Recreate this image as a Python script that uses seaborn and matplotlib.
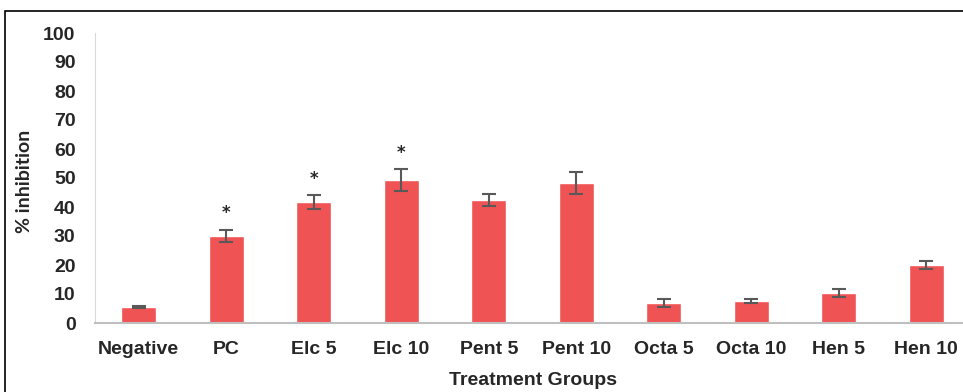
import matplotlib
matplotlib.use("Agg")
import matplotlib.pyplot as plt
import pandas as pd
import seaborn as sns
from matplotlib.patches import Rectangle

groups = ["Negative", "PC", "Elc 5", "Elc 10", "Pent 5", "Pent 10",
          "Octa 5", "Octa 10", "Hen 5", "Hen 10"]
inhibition = [5.6, 30.0, 41.7, 49.3, 42.4, 48.3, 6.9, 7.6, 10.3, 20.0]
errors = [0.3, 2.2, 2.3, 3.7, 2.2, 3.7, 1.3, 0.6, 1.5, 1.5]
significant = ["PC", "Elc 5", "Elc 10"]
y_ticks = list(range(0, 101, 10))

BAR_COLOR = "#F05354"
ERR_COLOR = "#595959"

sns.set_style("white")
plt.rcParams["font.family"] = ["Liberation Sans", "DejaVu Sans"]

df = pd.DataFrame({"group": groups, "inhibition": inhibition, "err": errors})

W, H = 963, 392
fig = plt.figure(figsize=(W / 100, H / 100), dpi=100)
ax = fig.add_axes([95 / W, 69 / H, 875 / W, 290 / H])

sns.barplot(data=df, x="group", y="inhibition", color=BAR_COLOR,
            width=0.4, saturation=1, errorbar=None, ax=ax)
ax.errorbar(range(len(groups)), df["inhibition"], yerr=df["err"], fmt="none",
            ecolor=ERR_COLOR, elinewidth=1.5, capsize=5, capthick=1.5)

for i, g in enumerate(groups):
    if g in significant:
        ax.text(i, inhibition[i] + errors[i] + 2.5, "*", ha="center", va="bottom",
                fontsize=12, fontweight="bold", family=["DejaVu Sans"])

ax.set_ylim(0, 100)
ax.set_xlim(-0.5, len(groups) - 0.5)
ax.set_yticks(y_ticks)
ax.set_yticklabels([str(t) for t in y_ticks], fontsize=14, fontweight="bold")
ax.set_xticks(range(len(groups)))
ax.set_xticklabels(groups, fontsize=14, fontweight="bold")
ax.tick_params(axis="y", length=0, pad=14)
ax.tick_params(axis="x", length=0, pad=13)
ax.set_xlabel("Treatment Groups", fontsize=14, fontweight="bold", labelpad=10)
ax.set_ylabel("% inhibition", fontsize=14, fontweight="bold",
              family=["Lato", "DejaVu Sans"])
ax.yaxis.set_label_coords(-0.071, 0.49)

for side in ["top", "right"]:
    ax.spines[side].set_visible(False)
ax.spines["left"].set_color("#D9D9D9")
ax.spines["bottom"].set_color("#BFBFBF")
ax.spines["bottom"].set_linewidth(1.5)

fig.patches.append(Rectangle((5 / W, -0.05), 1.1, 1.05 - 11 / H,
                             transform=fig.transFigure, fill=False,
                             edgecolor="black", linewidth=1.2))

fig.savefig("out.png", dpi=100)
